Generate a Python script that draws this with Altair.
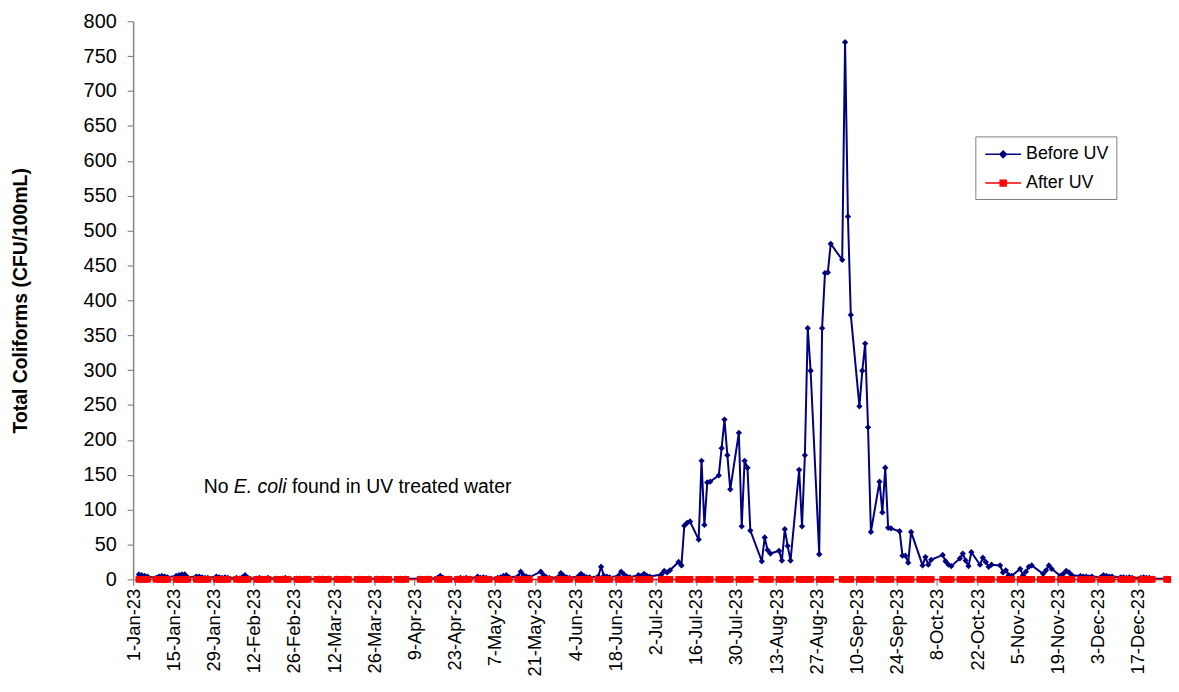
import altair as alt
import pandas as pd

NAVY = "#000080"
RED = "#FF0000"
GREY = "#868686"
FONT = "Liberation Sans"

series_names = ["Before UV", "After UV"]

# Monday of each sampling week (samples Mon-Fri), 2-Jan-23 .. 25-Dec-23
week_mondays = pd.date_range("2023-01-02", periods=52, freq="7D")

# Before UV total coliforms (CFU/100mL), Mon..Fri per week, None = no sample
before_weeks = [
    [None, 7, 6, 5, 4],      # 2-Jan
    [2, 4, 5, 4, 3],         # 9-Jan
    [5, 6, 7, 7, 3],         # 16-Jan
    [4, 4, 3, 2, 2],         # 23-Jan
    [4, 3, 2, 3, 2],         # 30-Jan
    [2, 1, 3, 6, 2],         # 6-Feb
    [1, 2, 1, 1, 2],         # 13-Feb
    [1, 0, 1, 2, 1],         # 20-Feb
    [1, 1, 0, 1, 1],         # 27-Feb
    [0, 1, 1, 0, 1],         # 6-Mar
    [1, 0, 0, 1, 0],         # 13-Mar
    [0, 1, 0, 0, 1],         # 20-Mar
    [1, 0, 1, 0, 0],         # 27-Mar
    [0, 1, 0, 1, None],      # 3-Apr
    [None, 1, 0, 1, 1],      # 10-Apr
    [2, 5, 2, 1, 1],         # 17-Apr
    [1, 2, 1, 2, 1],         # 24-Apr
    [4, 2, 3, 2, 1],         # 1-May
    [2, 3, 5, 6, 3],         # 8-May
    [4, 11, 6, 4, 3],        # 15-May
    [None, 11, 6, 3, 2],     # 22-May
    [3, 9, 5, 3, 2],         # 29-May
    [4, 8, 5, 3, 3],         # 5-Jun
    [4, 18, 5, 4, 3],        # 12-Jun
    [5, 11, 7, 4, 3],        # 19-Jun
    [6, 5, 8, 5, 4],         # 26-Jun
    [None, 7, 12, 10, 13],   # 3-Jul
    [25, 20, 77, 81, 83],    # 10-Jul
    [57, 170, 78, 139, 140], # 17-Jul
    [149, 188, 229, 178, 129],  # 24-Jul
    [210, 76, 170, 160, 70],    # 31-Jul
    [None, 26, 60, 42, 37],     # 7-Aug
    [41, 27, 72, 48, 27],       # 14-Aug
    [157, 76, 178, 360, 299],   # 21-Aug
    [36, 360, 439, 440, 481],   # 28-Aug
    [None, 458, 770, 520, 379], # 4-Sep
    [248, 299, 338, 218, 68],   # 11-Sep
    [140, 96, 160, 74, 73],     # 18-Sep
    [69, 34, 34, 24, 68],       # 25-Sep
    [None, 20, 32, 21, 28],     # 2-Oct
    [None, 35, 26, 21, 19],     # 9-Oct
    [30, 37, 27, 19, 39],       # 16-Oct
    [21, 31, 25, 18, 21],       # 23-Oct
    [20, 10, 13, 6, 5],         # 30-Oct
    [15, 6, 11, 18, 20],        # 6-Nov
    [None, 8, 13, 20, 15],      # 13-Nov
    [5, 8, 12, 10, 6],          # 20-Nov
    [5, 4, 4, 3, 4],            # 27-Nov
    [3, 6, 5, 4, 4],            # 4-Dec
    [3, 3, 2, 3, 2],            # 11-Dec
    [2, 3, 2, 2, 1],            # 18-Dec
    [None, None, 1, 0, 0],      # 25-Dec
]

# After UV: no coliforms found on any sampled weekday
after_weeks = [
    [None, 0, 0, 0, 0], [0, 0, 0, 0, 0], [0, 0, 0, 0, 0], [0, 0, 0, 0, 0],
    [0, 0, 0, 0, 0], [0, 0, 0, 0, 0], [0, 0, 0, 0, 0], [0, 0, 0, 0, 0],
    [0, 0, 0, 0, 0], [0, 0, 0, 0, 0], [0, 0, 0, 0, 0], [0, 0, 0, 0, 0],
    [0, 0, 0, 0, 0], [0, 0, 0, 0, None], [None, 0, 0, 0, 0], [0, 0, 0, 0, 0],
    [0, 0, 0, 0, 0], [0, 0, 0, 0, 0], [0, 0, 0, 0, 0], [0, 0, 0, 0, 0],
    [None, 0, 0, 0, 0], [0, 0, 0, 0, 0], [0, 0, 0, 0, 0], [0, 0, 0, 0, 0],
    [0, 0, 0, 0, 0], [0, 0, 0, 0, 0], [None, 0, 0, 0, 0], [0, 0, 0, 0, 0],
    [0, 0, 0, 0, 0], [0, 0, 0, 0, 0], [0, 0, 0, 0, 0], [None, 0, 0, 0, 0],
    [0, 0, 0, 0, 0], [0, 0, 0, 0, 0], [0, 0, 0, 0, 0], [None, 0, 0, 0, 0],
    [0, 0, 0, 0, 0], [0, 0, 0, 0, 0], [0, 0, 0, 0, 0], [0, 0, 0, 0, 0],
    [None, 0, 0, 0, 0], [0, 0, 0, 0, 0], [0, 0, 0, 0, 0], [0, 0, 0, 0, 0],
    [0, 0, 0, 0, 0], [0, 0, 0, 0, 0], [0, 0, 0, 0, 0], [0, 0, 0, 0, 0],
    [0, 0, 0, 0, 0], [0, 0, 0, 0, 0], [0, 0, 0, 0, 0], [None, None, 0, 0, 0],
]

x_tick_dates = [
    "2023-01-01", "2023-01-15", "2023-01-29", "2023-02-12", "2023-02-26",
    "2023-03-12", "2023-03-26", "2023-04-09", "2023-04-23", "2023-05-07",
    "2023-05-21", "2023-06-04", "2023-06-18", "2023-07-02", "2023-07-16",
    "2023-07-30", "2023-08-13", "2023-08-27", "2023-09-10", "2023-09-24",
    "2023-10-08", "2023-10-22", "2023-11-05", "2023-11-19", "2023-12-03",
    "2023-12-17",
]
y_ticks = [0, 50, 100, 150, 200, 250, 300, 350, 400, 450, 500, 550, 600, 650, 700, 750, 800]

ann_parts = ["No", "E. coli", "found in UV treated water"]
ann_styles = ["normal", "italic", "normal"]
ann_dx = [0, 30.3, 88.8]
ann_date = "2023-01-25T14:00:00Z"
ann_value = 124

rows = []
for monday, bw, aw in zip(week_mondays, before_weeks, after_weeks):
    for i in range(5):
        d = (monday + pd.Timedelta(days=i)).strftime("%Y-%m-%d")
        if bw[i] is not None:
            rows.append({"date": d, "value": bw[i], "series": "Before UV"})
        if aw[i] is not None:
            rows.append({"date": d, "value": aw[i], "series": "After UV"})
df = pd.DataFrame(rows)


def dt(s, hours=0):
    y, m, d = (int(p) for p in s.split("-"))
    return alt.DateTime(year=y, month=m, date=d, hours=hours, utc=True)


x_enc = alt.X(
    "date:T",
    title=None,
    scale=alt.Scale(type="utc", domain=[dt("2023-01-01"), dt("2023-12-27", 12)]),
    axis=alt.Axis(
        values=[dt(s) for s in x_tick_dates],
        labelExpr="utcFormat(datum.value, '%-d-%b-%y')",
        labelAngle=270,
        tickSize=6,
        labelPadding=3,
        labelFontSize=18.5,
        labelOverlap=False,
    ),
)
y_enc = alt.Y(
    "value:Q",
    title="Total Coliforms (CFU/100mL)",
    scale=alt.Scale(domain=[0, 800]),
    axis=alt.Axis(
        values=y_ticks,
        tickSize=6,
        labelPadding=11,
        titlePadding=53,
        labelFontSize=20,
        labelOverlap=False,
    ),
)

base = alt.Chart(df).encode(x=x_enc, y=y_enc)
before = base.transform_filter(alt.datum.series == "Before UV")
after = base.transform_filter(alt.datum.series == "After UV")

before_line = before.mark_line(color=NAVY, strokeWidth=2)
before_pts = before.mark_point(shape="diamond", filled=True, color=NAVY, size=40, opacity=1)
after_line = after.mark_line(color=RED, strokeWidth=1.5)
after_pts = after.mark_point(shape="square", filled=True, color=RED, size=45, opacity=1)

path_before = "M-0.8,0H2.8M1,-0.33L1.33,0L1,0.33L0.67,0Z"
path_after = "M-0.8,0H2.8M0.7,-0.3H1.3V0.3H0.7Z"

leg = alt.Legend(
    title=None,
    orient="none",
    legendX=848,
    legendY=116,
    padding=7,
    strokeColor="#808080",
    fillColor="white",
    symbolSize=400,
    symbolStrokeWidth=1.5,
    labelFont=FONT,
    labelFontSize=18,
    labelColor="black",
    labelOffset=22,
    rowPadding=9,
)
legend_layer = (
    alt.Chart(df)
    .transform_filter("false")
    .mark_point(filled=True, opacity=1)
    .encode(
        x=x_enc,
        y=y_enc,
        fill=alt.Fill("series:N", scale=alt.Scale(domain=series_names, range=[NAVY, RED]), legend=leg),
        stroke=alt.Stroke("series:N", scale=alt.Scale(domain=series_names, range=[NAVY, RED]), legend=leg),
        shape=alt.Shape("series:N", scale=alt.Scale(domain=series_names, range=[path_before, path_after]), legend=leg),
    )
)

ann_df = pd.DataFrame({"date": [ann_date], "value": [ann_value]})
ann_layers = []
for txt, style, dx in zip(ann_parts, ann_styles, ann_dx):
    ann_layers.append(
        alt.Chart(ann_df)
        .mark_text(text=txt, fontStyle=style, align="left", baseline="alphabetic", dx=dx,
                   font=FONT, fontSize=19.5, color="black")
        .encode(x=x_enc, y=y_enc)
    )

chart = (
    alt.layer(before_line, before_pts, after_line, after_pts, legend_layer, *ann_layers)
    .properties(
        width=1042,
        height=562,
        autosize=alt.AutoSizeParams(type="none"),
        padding={"left": 126, "top": 11, "right": 3, "bottom": 98},
    )
    .configure_view(strokeWidth=0)
    .configure_axis(
        grid=False,
        domainColor=GREY,
        domainWidth=1.5,
        tickColor=GREY,
        tickWidth=1.2,
        labelFont=FONT,
        labelColor="black",
        titleFont=FONT,
        titleFontSize=19.5,
        titleFontWeight="bold",
        titleColor="black",
    )
)

chart.save("out.html", embed_options={"renderer": "svg", "actions": False})
